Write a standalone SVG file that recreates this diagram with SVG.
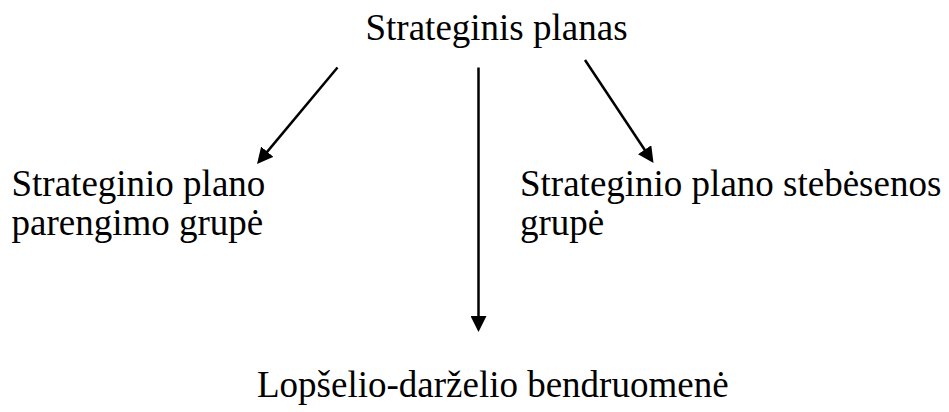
<svg xmlns="http://www.w3.org/2000/svg" width="949" height="412" viewBox="0 0 949 412">
  <style>
    .t { font-family: "Liberation Serif", "Times New Roman", serif; font-size: 37px; fill: #000; }
    .c { stroke: #000; stroke-width: 2.5; fill: none; }
  </style>
  <defs>
    <marker id="ah" markerUnits="userSpaceOnUse" markerWidth="16" markerHeight="16" viewBox="0 0 16 16" refX="12" refY="8" orient="auto">
      <path d="M0,0 L16,8 L0,16 Z" fill="#000"/>
    </marker>
  </defs>
  <rect width="949" height="412" fill="#fff"/>
  <g id="node-strateginis-planas">
    <text class="t" x="365.5" y="40">Strateginis planas</text>
  </g>
  <g id="node-parengimo-grupe">
    <text class="t" x="11.5" y="196">Strateginio plano</text>
    <text class="t" x="11.5" y="235">parengimo grupė</text>
  </g>
  <g id="node-stebesenos-grupe">
    <text class="t" x="520" y="196">Strateginio plano stebėsenos</text>
    <text class="t" x="520" y="235">grupė</text>
  </g>
  <g id="node-bendruomene">
    <text class="t" x="257" y="397">Lopšelio-darželio bendruomenė</text>
  </g>
  <g id="connectors">
    <line class="c" x1="337.5" y1="67.5" x2="259.6" y2="160.9" marker-end="url(#ah)"/>
    <line class="c" x1="478.5" y1="67.5" x2="478.5" y2="328" marker-end="url(#ah)"/>
    <line class="c" x1="585" y1="60" x2="651.3" y2="159.7" marker-end="url(#ah)"/>
  </g>
</svg>
